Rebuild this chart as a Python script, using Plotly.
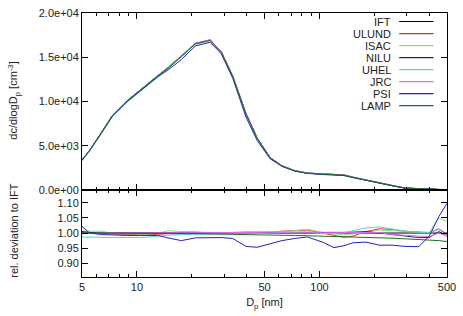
import numpy as np
import plotly.graph_objects as go
from plotly.subplots import make_subplots

# ---------------- data ----------------
diam = [5.0, 5.5, 6.4, 7.35, 8.85, 10.3, 11.3, 13.0, 14.8, 17.5, 20.9, 25.2, 29.0, 33.5,
        39.6, 45.6, 53.7, 62.3, 73.1, 86.0, 104, 120, 136, 153, 180, 213, 250, 294,
        350, 400, 450, 500]

ift_conc = [3350, 4450, 6500, 8430, 10090, 11230, 11930, 12900, 13780, 15110, 16540,
            16950, 15610, 12850, 8620, 5860, 3650, 2730, 2180, 1900, 1800, 1780, 1700,
            1440, 1110, 770, 500, 220, 130, 80, 40, 20]

names = ["IFT", "ULUND", "ISAC", "NILU", "UHEL", "JRC", "PSI", "LAMP"]
colors = ["#000000", "#e8282a", "#7fe07f", "#1c1c78", "#40e0d0", "#ee66ee", "#2424bb", "#1f6f1f"]

dev_ift = [1.0] * 32
dev_ulund = [1.0, 1.0, 0.998, 0.997, 0.995, 0.993, 0.994, 0.996, 0.998, 0.997, 0.998, 0.999,
             1.0, 1.0, 1.0, 1.001, 1.002, 1.006, 1.009, 1.01, 1.0, 0.993, 0.986, 0.99, 1.005,
             1.014, 1.012, 1.006, 1.003, 1.001, 1.014, 0.996]
dev_isac = [1.006, 1.006, 1.006, 0.999, 0.996, 0.996, 0.996, 0.998, 1.008, 1.005, 1.005, 1.0,
            1.0, 1.003, 1.005, 1.005, 1.004, 1.004, 1.008, 1.012, 1.002, 0.997, 0.994, 0.997,
            1.002, 1.01, 1.007, 1.005, 1.003, 1.003, 1.049, 1.039]
dev_nilu = [1.005, 1.002, 1.0, 1.0, 1.0, 1.0, 1.0, 1.0, 1.0, 1.0, 1.0, 1.0, 1.0, 1.0, 1.0,
            1.0, 1.0, 1.0, 1.0, 1.0, 1.0, 1.001, 1.002, 1.003, 1.005, 1.0, 0.995, 0.99,
            0.985, 0.985, 1.005, 0.99]
dev_uhel = [0.987, 0.986, 0.986, 0.985, 0.985, 0.985, 0.986, 0.99, 0.993, 0.995, 0.996, 0.996,
            0.996, 0.996, 0.997, 0.998, 1.0, 1.002, 1.004, 1.004, 0.998, 0.998, 1.0, 1.008,
            1.017, 1.02, 1.012, 1.006, 1.003, 1.0, 1.012, 0.99]
dev_jrc = [0.998, 0.999, 1.0, 1.0, 1.0, 1.0, 1.0, 1.0, 1.0, 1.0, 1.001, 1.001, 1.001, 1.001,
           1.001, 1.002, 1.003, 1.003, 1.003, 1.003, 1.002, 1.002, 1.002, 1.002, 1.002, 1.002,
           0.995, 0.992, 0.99, 0.988, 1.0, 0.99]
dev_psi = [1.022, 1.0, 0.995, 0.993, 0.992, 0.992, 0.992, 0.992, 0.984, 0.975, 0.984, 0.985,
           0.985, 0.982, 0.956, 0.953, 0.965, 0.975, 0.982, 0.987, 0.97, 0.952, 0.958, 0.968,
           0.97, 0.96, 0.96, 0.956, 0.955, 0.99, 1.053, 1.098]
dev_lamp = [1.0, 1.0, 1.0, 0.999, 0.999, 0.999, 0.998, 0.998, 0.998, 0.998, 0.998, 0.997,
            0.997, 0.996, 0.995, 0.994, 0.994, 0.993, 0.992, 0.991, 0.99, 0.989, 0.988, 0.987,
            0.986, 0.985, 0.983, 0.981, 0.979, 0.977, 0.975, 0.972]

deviations = [dev_ift, dev_ulund, dev_isac, dev_nilu, dev_uhel, dev_jrc, dev_psi, dev_lamp]

x_tickvals = [5, 10, 50, 100, 500]
x_ticktext = ["5", "10", "50", "100", "500"]
x_minor = [6, 7, 8, 9, 20, 30, 40, 60, 70, 80, 90, 200, 300, 400]
y1_tickvals = [0, 5000, 10000, 15000, 20000]
y1_ticktext = ["0.0e+00", "5.0e+03", "1.0e+04", "1.5e+04", "2.0e+04"]
y2_tickvals = [0.90, 0.95, 1.00, 1.05, 1.10]
y2_ticktext = ["0.90", "0.95", "1.00", "1.05", "1.10"]

# ---------------- figure ----------------
FONT = "Liberation Sans, Arial, sans-serif"
TXT = "#222"
W, H = 463, 316
ML, MR, MT, MB = 82, 7, 7, 39
plot_w = W - ML - MR
plot_h = H - MT - MB
split = 0.3296

fig = make_subplots(rows=2, cols=1, shared_xaxes=True, vertical_spacing=0,
                    row_heights=[1 - split, split])

ift_arr = np.array(ift_conc, dtype=float)
for name, col, dev in zip(names, colors, deviations):
    fig.add_trace(go.Scatter(x=diam, y=ift_arr * np.array(dev), mode="lines", name=name,
                             line=dict(color=col, width=1), showlegend=False), row=1, col=1)
for name, col, dev in zip(names, colors, deviations):
    fig.add_trace(go.Scatter(x=diam, y=dev, mode="lines", name=name,
                             line=dict(color=col, width=1), showlegend=False), row=2, col=1)

axis_common = dict(showline=True, linecolor="black", linewidth=1, mirror="ticks",
                   ticks="inside", tickcolor="black", showgrid=False, zeroline=False,
                   tickfont=dict(family=FONT, size=11, color=TXT))

xr = [np.log10(5) - 1e-6, np.log10(500) + 1e-6]
for r in (1, 2):
    fig.update_xaxes(type="log", range=xr, tickvals=x_tickvals, ticktext=x_ticktext,
                     ticklen=6, ticklabeloverflow="allow",
                     minor=dict(tickvals=x_minor, ticks="inside", ticklen=3,
                                tickcolor="black", showgrid=False),
                     row=r, col=1, **axis_common)
fig.update_xaxes(showticklabels=False, row=1, col=1)
fig.update_xaxes(title=dict(text="D<sub>p</sub> [nm]", font=dict(family=FONT, size=11, color=TXT),
                            standoff=6), row=2, col=1)

fig.update_yaxes(range=[0, 20000], tickvals=y1_tickvals, ticktext=y1_ticktext, ticklen=6,
                 row=1, col=1, **axis_common)
fig.update_yaxes(range=[0.855, 1.142], tickvals=y2_tickvals, ticktext=y2_ticktext, ticklen=6,
                 row=2, col=1, **axis_common)

annotations = []
# y-axis titles placed like gnuplot's (far left)
annotations.append(dict(x=(12 - ML) / plot_w, y=(H - MB - 97) / plot_h, xref="paper", yref="paper",
                        text="dc/dlogD<sub>p</sub> [cm<sup>-3</sup>]", textangle=-90,
                        showarrow=False, xanchor="center", yanchor="middle",
                        font=dict(family=FONT, size=11, color=TXT)))
annotations.append(dict(x=(12 - ML) / plot_w, y=(H - MB - 230) / plot_h, xref="paper", yref="paper",
                        text="rel. deviation to IFT", textangle=-90,
                        showarrow=False, xanchor="center", yanchor="middle",
                        font=dict(family=FONT, size=11, color=TXT)))

# gnuplot-style key (text left, sample line right) inside the top panel
shapes = []
for i, (name, col) in enumerate(zip(names, colors)):
    ypx = 15.7 + 12.3 * i
    yp = (H - MB - ypx) / plot_h
    annotations.append(dict(x=0.851, y=yp, xref="paper", yref="paper", text=name,
                            showarrow=False, xanchor="right", yanchor="middle",
                            font=dict(family=FONT, size=11, color=TXT)))
    shapes.append(dict(type="line", xref="paper", yref="paper", x0=0.869, x1=0.963,
                       y0=yp, y1=yp, line=dict(color=col, width=1.2)))

fig.update_layout(width=W, height=H, margin=dict(l=ML, r=MR, t=MT, b=MB),
                  plot_bgcolor="white", paper_bgcolor="white",
                  annotations=annotations, shapes=shapes,
                  font=dict(family=FONT, size=11, color=TXT))

fig.write_html("out.html")
